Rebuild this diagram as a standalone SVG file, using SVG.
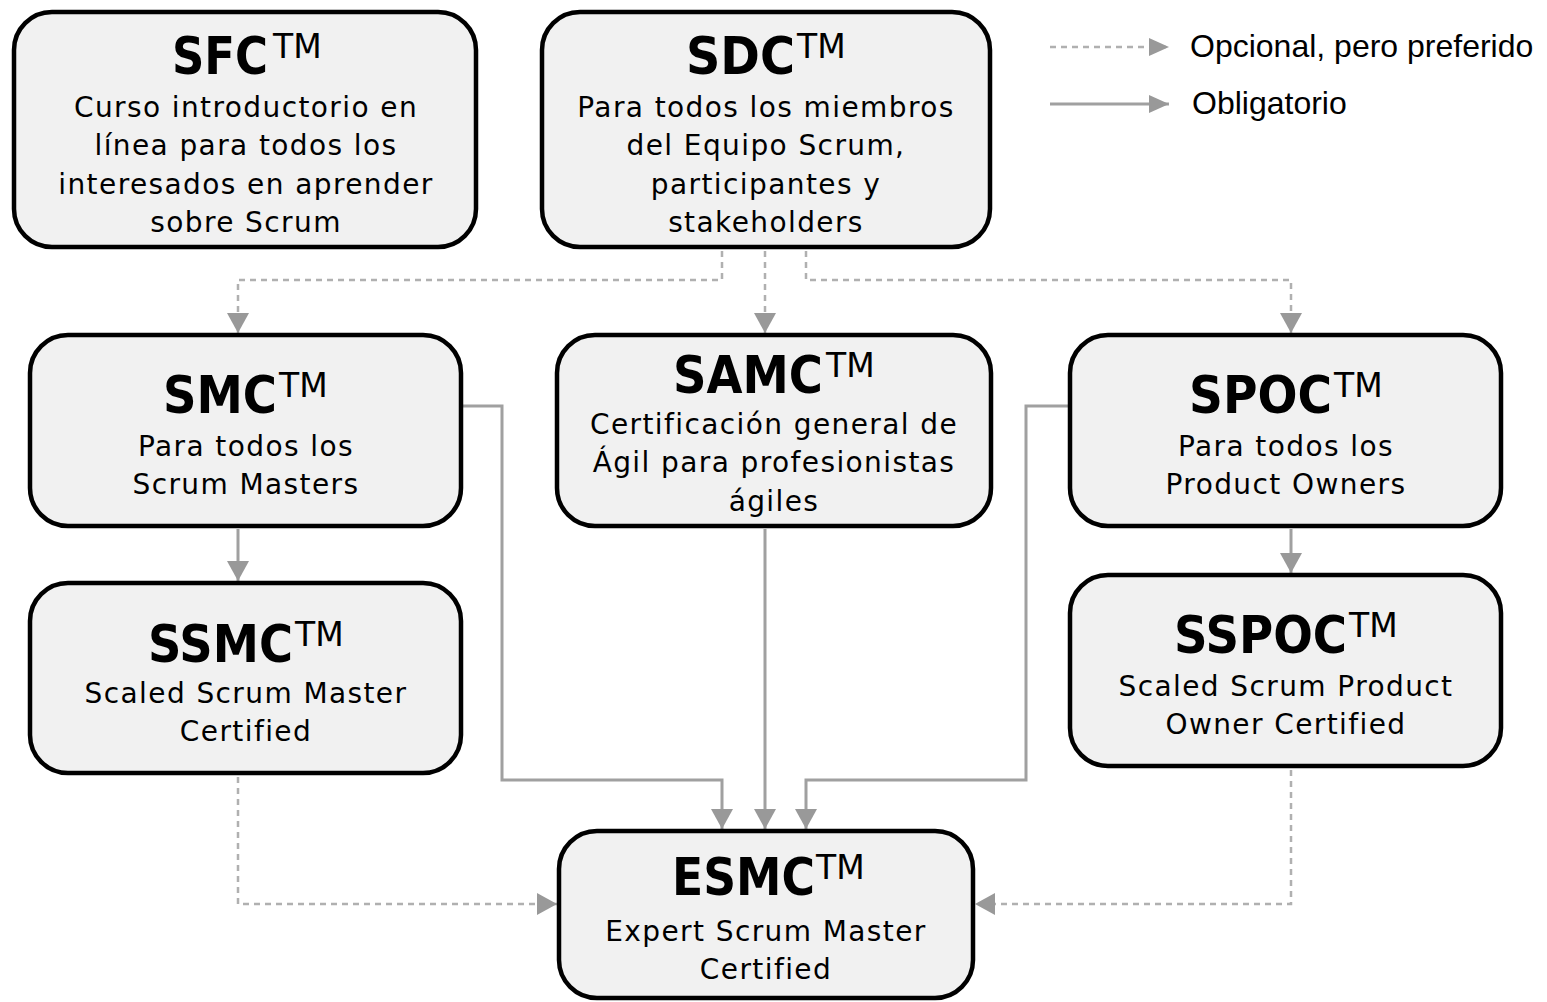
<svg xmlns="http://www.w3.org/2000/svg" width="1547" height="1002" viewBox="0 0 1547 1002">
<style>
.box{fill:#f1f1f1;stroke:#000;stroke-width:4.5}
.t{font-family:"DejaVu Sans",sans-serif;font-weight:bold;font-size:52px;fill:#000}
.tm{font-weight:normal;font-size:33px}
.b{font-family:"DejaVu Sans",sans-serif;font-size:28px;letter-spacing:1.4px;fill:#000;text-anchor:middle}
.lg{font-family:"Liberation Sans",Arial,sans-serif;font-size:32px;fill:#000}
.solid{fill:none;stroke:#a0a0a0;stroke-width:3}
.dash{fill:none;stroke:#b0b0b0;stroke-width:2.5;stroke-dasharray:6 5}
</style>
<defs>
<marker id="ah" markerUnits="userSpaceOnUse" markerWidth="22" markerHeight="22" refX="20" refY="11" orient="auto" overflow="visible">
<path d="M0,0 L20,11 L0,22 Z" fill="#999"/>
</marker>
<marker id="ahs" markerUnits="userSpaceOnUse" markerWidth="20" markerHeight="18" refX="20" refY="9" orient="auto" overflow="visible">
<path d="M0,0 L20,9 L0,18 Z" fill="#999"/>
</marker>
</defs>

<g id="connectors">
<path class="dash" d="M722,251 V280 H238 V333" marker-end="url(#ah)"/>
<path class="dash" d="M765,251 V333" marker-end="url(#ah)"/>
<path class="dash" d="M806,251 V280 H1291 V333" marker-end="url(#ah)"/>
<path class="dash" d="M238,777 V904 H557" marker-end="url(#ah)"/>
<path class="dash" d="M1291,770 V904 H975" marker-end="url(#ah)"/>
<path class="solid" d="M238,529 V581" marker-end="url(#ah)"/>
<path class="solid" d="M1291,529 V573" marker-end="url(#ah)"/>
<path class="solid" d="M463,406 H502 V780 H722 V829" marker-end="url(#ah)"/>
<path class="solid" d="M765,529 V829" marker-end="url(#ah)"/>
<path class="solid" d="M1068,406 H1026 V780 H806 V829" marker-end="url(#ah)"/>
</g>

<g id="legend">
<path class="dash" d="M1050,47 H1169" marker-end="url(#ahs)"/>
<path class="solid" d="M1050,104 H1169" marker-end="url(#ahs)"/>
<text class="lg" x="1190" y="57">Opcional, pero preferido</text>
<text class="lg" x="1192" y="114">Obligatorio</text>
</g>

<g id="SFC">
<rect class="box" x="14" y="12" width="462" height="235" rx="38"/>
<text class="t" y="74"><tspan x="172" textLength="96" lengthAdjust="spacingAndGlyphs">SFC</tspan><tspan class="tm" x="273" dy="-16">TM</tspan></text>
<text class="b" x="246" y="117">Curso introductorio en</text>
<text class="b" x="246" y="155">línea para todos los</text>
<text class="b" x="246" y="194">interesados en aprender</text>
<text class="b" x="246" y="232">sobre Scrum</text>
</g>

<g id="SDC">
<rect class="box" x="542" y="12" width="448" height="235" rx="38"/>
<text class="t" y="74"><tspan x="686" textLength="109" lengthAdjust="spacingAndGlyphs">SDC</tspan><tspan class="tm" x="797" dy="-16">TM</tspan></text>
<text class="b" x="766" y="117">Para todos los miembros</text>
<text class="b" x="766" y="155">del Equipo Scrum,</text>
<text class="b" x="766" y="194">participantes y</text>
<text class="b" x="766" y="232">stakeholders</text>
</g>

<g id="SMC">
<rect class="box" x="30" y="335" width="431" height="191" rx="38"/>
<text class="t" y="413"><tspan x="163" textLength="114" lengthAdjust="spacingAndGlyphs">SMC</tspan><tspan class="tm" x="279" dy="-16">TM</tspan></text>
<text class="b" x="246" y="456">Para todos los</text>
<text class="b" x="246" y="494">Scrum Masters</text>
</g>

<g id="SAMC">
<rect class="box" x="557" y="335" width="434" height="191" rx="38"/>
<text class="t" y="393"><tspan x="673" textLength="150" lengthAdjust="spacingAndGlyphs">SAMC</tspan><tspan class="tm" x="826" dy="-16">TM</tspan></text>
<text class="b" x="774" y="434">Certificación general de</text>
<text class="b" x="774" y="472">Ágil para profesionistas</text>
<text class="b" x="774" y="511">ágiles</text>
</g>

<g id="SPOC">
<rect class="box" x="1070" y="335" width="431" height="191" rx="38"/>
<text class="t" y="413"><tspan x="1189" textLength="143" lengthAdjust="spacingAndGlyphs">SPOC</tspan><tspan class="tm" x="1334" dy="-16">TM</tspan></text>
<text class="b" x="1286" y="456">Para todos los</text>
<text class="b" x="1286" y="494">Product Owners</text>
</g>

<g id="SSMC">
<rect class="box" x="30" y="583" width="431" height="190" rx="38"/>
<text class="t" y="662"><tspan x="148" textLength="145" lengthAdjust="spacingAndGlyphs">SSMC</tspan><tspan class="tm" x="295" dy="-16">TM</tspan></text>
<text class="b" x="246" y="703">Scaled Scrum Master</text>
<text class="b" x="246" y="741">Certified</text>
</g>

<g id="SSPOC">
<rect class="box" x="1070" y="575" width="431" height="191" rx="38"/>
<text class="t" y="653"><tspan x="1174" textLength="173" lengthAdjust="spacingAndGlyphs">SSPOC</tspan><tspan class="tm" x="1349" dy="-16">TM</tspan></text>
<text class="b" x="1286" y="696">Scaled Scrum Product</text>
<text class="b" x="1286" y="734">Owner Certified</text>
</g>

<g id="ESMC">
<rect class="box" x="559" y="831" width="414" height="167" rx="38"/>
<text class="t" y="895"><tspan x="672" textLength="143" lengthAdjust="spacingAndGlyphs">ESMC</tspan><tspan class="tm" x="816" dy="-16">TM</tspan></text>
<text class="b" x="766" y="941">Expert Scrum Master</text>
<text class="b" x="766" y="979">Certified</text>
</g>
</svg>
